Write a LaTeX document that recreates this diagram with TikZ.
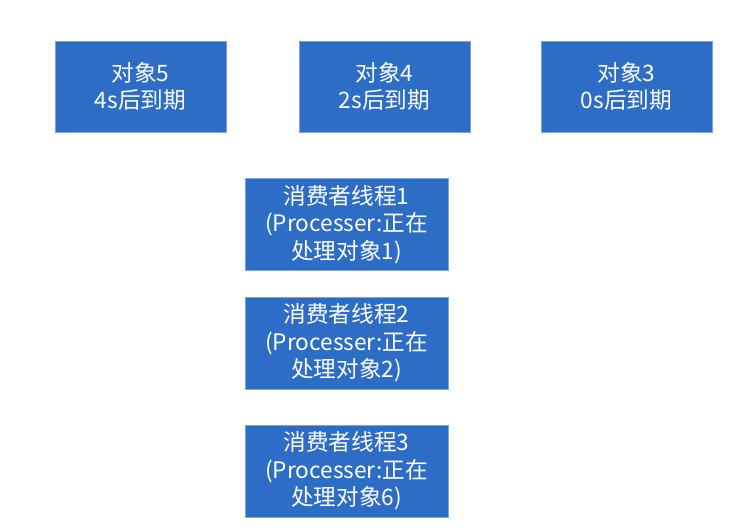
\documentclass[tikz,border=0pt]{standalone}
\usepackage{fontspec}
\setmainfont{Noto Sans CJK SC}
\definecolor{boxfill}{HTML}{2E6DC6}
\definecolor{boxedge}{HTML}{7FA3DC}
\begin{document}
\begin{tikzpicture}[x=0.75pt,y=-0.75pt,
  box/.style={draw=boxedge,line width=0.6pt,fill=boxfill,text=white,
    align=center,inner sep=0pt,font=\fontsize{17}{20.6}\selectfont},
  objbox/.style={box,minimum width=128.25pt,minimum height=68.25pt},
  thrbox/.style={box,minimum width=152.25pt,minimum height=69pt}]
\useasboundingbox (0,0) rectangle (737,530);
% queued objects along the top
\node[objbox] (o5) at (140.5,86.5) {对象5\\4s后到期};
\node[objbox] (o4) at (384.5,86.5) {对象4\\2s后到期};
\node[objbox] (o3) at (626.5,86.5) {对象3\\0s后到期};
% consumer threads
\node[thrbox] (c1) at (346.5,224.5) {消费者线程1\\(Processer:正在\\处理对象1)};
\node[thrbox] (c2) at (346.5,343) {消费者线程2\\(Processer:正在\\处理对象2)};
\node[thrbox] (c3) at (346.5,471) {消费者线程3\\(Processer:正在\\处理对象6)};
\end{tikzpicture}
\end{document}
